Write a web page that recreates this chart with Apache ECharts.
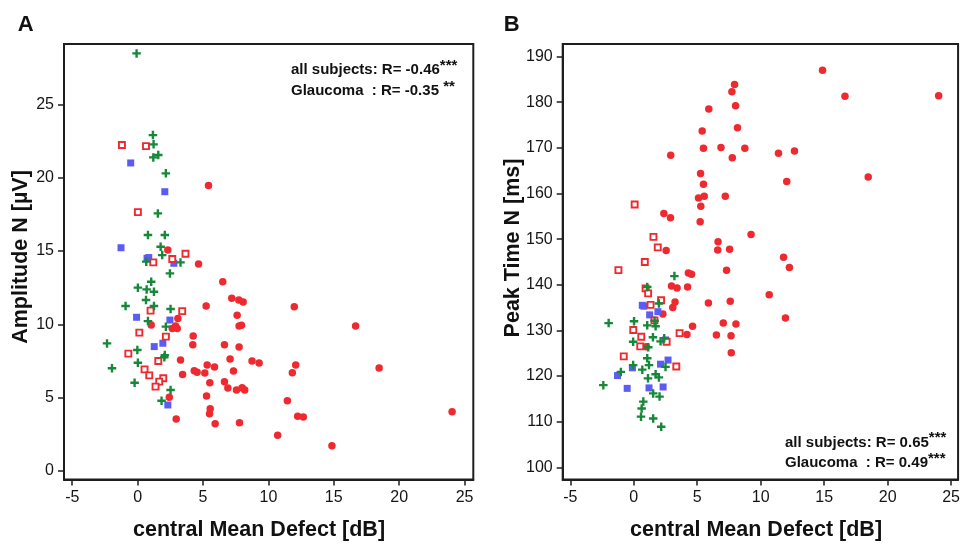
<!DOCTYPE html>
<html>
<head>
<meta charset="utf-8">
<script src="https://cdn.jsdelivr.net/npm/echarts@6/dist/echarts.min.js"></script>
<style>
html,body{margin:0;padding:0;background:#fff;}
#chart{width:963px;height:544px;}
</style>
</head>
<body>
<div id="chart"></div>
<script>
// ---------- data ----------
const xTicks = [-5, 0, 5, 10, 15, 20, 25];
const yTicksA = [0, 5, 10, 15, 20, 25];
const yTicksB = [100, 110, 120, 130, 140, 150, 160, 170, 180, 190];

// Panel A : Amplitude N [µV]
const aCircleX = [5.42,2.31,4.66,6.51,7.2,7.74,8.07,5.24,11.98,7.61,3.08,1.04,2.65,2.9,3.03,7.76,7.94,16.67,4.25,4.22,6.64,7.76,3.28,7.07,8.75,9.29,5.32,5.88,12.09,18.47,4.33,4.55,5.14,7.33,3.44,11.83,5.52,6.64,6.9,7.56,7.99,8.19,5.27,2.42,11.45,5.55,5.5,12.24,12.67,24.05,2.95,5.93,7.79,10.71,14.86];
const aCircleY = [19.47,15.06,14.11,12.9,11.77,11.66,11.52,11.25,11.2,10.61,10.4,9.95,9.72,9.88,9.72,9.88,9.93,9.88,9.2,8.61,8.61,8.45,7.57,7.63,7.5,7.36,7.23,7.09,7.23,7.02,6.84,6.73,6.68,6.82,6.57,6.7,6.02,6.09,5.66,5.52,5.68,5.52,5.11,5.02,4.79,4.25,3.91,3.73,3.68,4.04,3.54,3.22,3.29,2.43,1.72];
const aOpenSqX = [-1.2,0.64,0.02,3.66,2.65,1.2,3.41,0.99,0.13,2.16,-0.71,1.58,0.53,0.89,1.96,1.65,1.37];
const aOpenSqY = [22.22,22.15,17.65,14.81,14.45,14.22,10.9,10.93,9.43,9.16,8.0,7.5,6.93,6.52,6.32,6.09,5.75];
const aBlueX = [-0.53,2.08,-1.27,0.72,0.85,2.77,-0.08,2.47,1.93,1.27,2.31];
const aBlueY = [21.0,19.04,15.22,14.5,14.55,14.16,10.48,10.29,8.71,8.48,4.5];
const aPlusX = [-0.08,1.17,1.22,1.2,1.58,2.16,1.55,0.79,2.08,1.76,1.88,0.66,3.28,2.47,1.04,0.02,0.69,1.25,0.64,-0.92,1.25,2.52,0.79,2.16,2.08,2.04,-2.34,-0.02,0.02,-1.96,-0.23,2.52,1.83];
const aPlusY = [28.47,22.9,22.27,21.38,21.54,20.29,17.56,16.09,16.09,15.29,14.72,14.27,14.22,13.47,12.9,12.5,12.38,12.22,11.66,11.25,11.25,11.04,10.22,9.84,7.9,7.75,8.7,8.25,7.38,7.0,6.02,5.52,4.79];

// Panel B : Peak Time N [ms]
const bCircleX = [14.87,7.94,7.73,16.64,24.02,8.02,5.91,8.17,5.39,5.49,6.87,8.75,2.91,11.4,12.66,7.76,5.26,5.49,12.05,18.47,5.1,5.55,7.21,5.28,2.37,2.89,5.23,9.24,6.64,6.61,7.55,2.55,11.8,12.26,7.31,4.3,4.55,2.97,3.41,4.24,10.67,5.88,7.6,3.25,3.07,2.29,11.95,4.63,7.05,8.05,4.19,6.51,7.66,7.68,0.98];
const bCircleY = [187.0,183.9,182.3,181.3,181.4,179.2,178.5,174.4,173.7,169.9,170.1,169.9,168.4,168.8,169.3,167.8,164.4,162.0,162.6,163.6,159.0,159.4,159.4,157.2,155.6,154.7,153.8,151.0,149.4,147.6,147.8,147.5,146.0,143.8,143.2,142.6,142.3,139.7,139.3,139.5,137.8,136.0,136.4,136.2,135.0,133.6,132.7,130.9,131.6,131.4,129.1,129.0,128.8,125.1,126.4];
const bOpenSqX = [0.07,1.55,1.89,0.87,-1.21,0.93,1.13,2.15,1.32,1.63,-0.04,3.61,0.59,2.59,0.51,-0.79,3.35];
const bOpenSqY = [157.6,150.5,148.2,145.0,143.2,139.2,138.1,136.6,135.6,132.2,130.1,129.4,128.6,127.5,126.5,124.3,122.1];
const bBlueX = [0.67,0.8,1.25,1.9,2.5,2.7,2.11,-0.11,-1.28,-0.52,1.2,2.31];
const bBlueY = [135.5,135.3,133.4,134.1,127.9,123.5,122.6,121.8,120.1,117.3,117.4,117.6];
const bPlusX = [3.2,1.06,1.98,-1.98,0.02,1.06,1.72,1.64,1.51,-0.05,1.14,2.11,2.4,1.06,1.2,-0.05,-1.02,0.67,2.5,1.12,1.72,1.98,-2.4,1.53,2.03,0.75,0.62,0.57,1.53,2.16];
const bPlusY = [141.9,139.5,135.9,131.6,132.0,131.1,130.9,132.1,128.5,127.5,126.3,127.6,128.3,123.9,122.4,122.4,120.9,121.4,122.0,119.5,120.4,119.7,118.0,116.2,115.5,114.4,112.9,111.1,110.7,108.9];

const annotA = [['all subjects: R= -0.46', '***'], ['Glaucoma  : R= -0.35 ', '**']];
const annotB = [['all subjects: R= 0.65', '***'], ['Glaucoma  : R= 0.49', '***']];

// ---------- styling ----------
const FONT = '"Liberation Sans", Arial, Helvetica, sans-serif';
const RED = '#ee2a30';
const BLUE = '#5b5cf6';
const GREEN = '#17883a';
const AXIS = '#1e1e1e';
const PLUS = 'path://M3.6,0h2.8v3.6h3.6v2.8h-3.6v3.6h-2.8v-3.6h-3.6v-2.8h3.6z';

const zip = (xs, ys) => xs.map((x, i) => [x, ys[i]]);

function makeAxes(idx, min, max, ticks) {
  return {
    type: 'value', gridIndex: idx, min: min, max: max,
    splitLine: { show: false },
    axisLine: { show: true, onZero: false, lineStyle: { color: AXIS, width: 2 } },
    axisTick: { show: true, inside: false, length: 6, customValues: ticks, lineStyle: { color: AXIS, width: 1.5 } },
    axisLabel: { show: true, customValues: ticks, margin: 10, fontSize: 16, color: '#151515', fontFamily: FONT, hideOverlap: false, showMinLabel: true, showMaxLabel: true }
  };
}

function seriesFor(idx, cx, cy, sx, sy, bx, by, px, py) {
  return [
    { type: 'scatter', xAxisIndex: idx, yAxisIndex: idx, symbol: 'circle', symbolSize: 7.5,
      itemStyle: { color: RED, opacity: 1 }, data: zip(cx, cy), z: 3 },
    { type: 'scatter', xAxisIndex: idx, yAxisIndex: idx, symbol: 'rect', symbolSize: 7,
      itemStyle: { color: BLUE, opacity: 1 }, data: zip(bx, by), z: 4 },
    { type: 'scatter', xAxisIndex: idx, yAxisIndex: idx, symbol: 'rect', symbolSize: 6,
      itemStyle: { color: '#ffffff', borderColor: RED, borderWidth: 1.9, opacity: 1 }, data: zip(sx, sy), z: 5 },
    { type: 'scatter', xAxisIndex: idx, yAxisIndex: idx, symbol: PLUS, symbolSize: 8.5,
      itemStyle: { color: GREEN, opacity: 1 }, data: zip(px, py), z: 6 }
  ];
}

function annot(x, y, parts) {
  return {
    type: 'text', x: x, y: y, z: 100,
    style: {
      text: '{m|' + parts[0] + '}{s|' + parts[1] + '}',
      align: 'left', verticalAlign: 'middle',
      rich: {
        m: { fontSize: 15, fontWeight: 'bold', fontFamily: FONT, fill: '#111', lineHeight: 24, verticalAlign: 'middle' },
        s: { fontSize: 15, fontWeight: 'bold', fontFamily: FONT, fill: '#111', lineHeight: 15, verticalAlign: 'top' }
      }
    }
  };
}

function label(x, y, text, size, rot) {
  return {
    type: 'text', x: x, y: y, rotation: rot || 0, z: 100,
    style: { text: text, fontSize: size, fontWeight: 'bold', fontFamily: FONT, fill: '#111', align: 'center', verticalAlign: 'middle' }
  };
}

const chart = echarts.init(document.getElementById('chart'), null, { renderer: 'canvas' });
chart.setOption({
  animation: false,
  backgroundColor: '#ffffff',
  grid: [
    { left: 64, top: 44, width: 409.3, height: 435.5, show: true, borderColor: AXIS, borderWidth: 2, backgroundColor: 'transparent' },
    { left: 562.7, top: 44, width: 398.8, height: 435.5, show: true, borderColor: AXIS, borderWidth: 2, backgroundColor: 'transparent' }
  ],
  xAxis: [makeAxes(0, -5.63, 25.67, xTicks), makeAxes(1, -5.6, 25.55, xTicks)],
  yAxis: [makeAxes(0, -0.58, 29.11, yTicksA), makeAxes(1, 97.33, 192.75, yTicksB)],
  series: [].concat(
    seriesFor(0, aCircleX, aCircleY, aOpenSqX, aOpenSqY, aBlueX, aBlueY, aPlusX, aPlusY),
    seriesFor(1, bCircleX, bCircleY, bOpenSqX, bOpenSqY, bBlueX, bBlueY, bPlusX, bPlusY)
  ),
  graphic: [
    label(25.8, 24.5, 'A', 22),
    label(511.7, 24.5, 'B', 22),
    label(259, 530, 'central Mean Defect [dB]', 21.5),
    label(756, 530, 'central Mean Defect [dB]', 21.5),
    label(21, 257, 'Amplitude N [µV]', 21.5, Math.PI / 2),
    label(513, 248, 'Peak Time N [ms]', 21.5, Math.PI / 2),
    annot(291, 70.3, annotA[0]),
    annot(291, 91.3, annotA[1]),
    annot(785, 442.7, annotB[0]),
    annot(785, 463.3, annotB[1])
  ]
});
</script>
</body>
</html>
